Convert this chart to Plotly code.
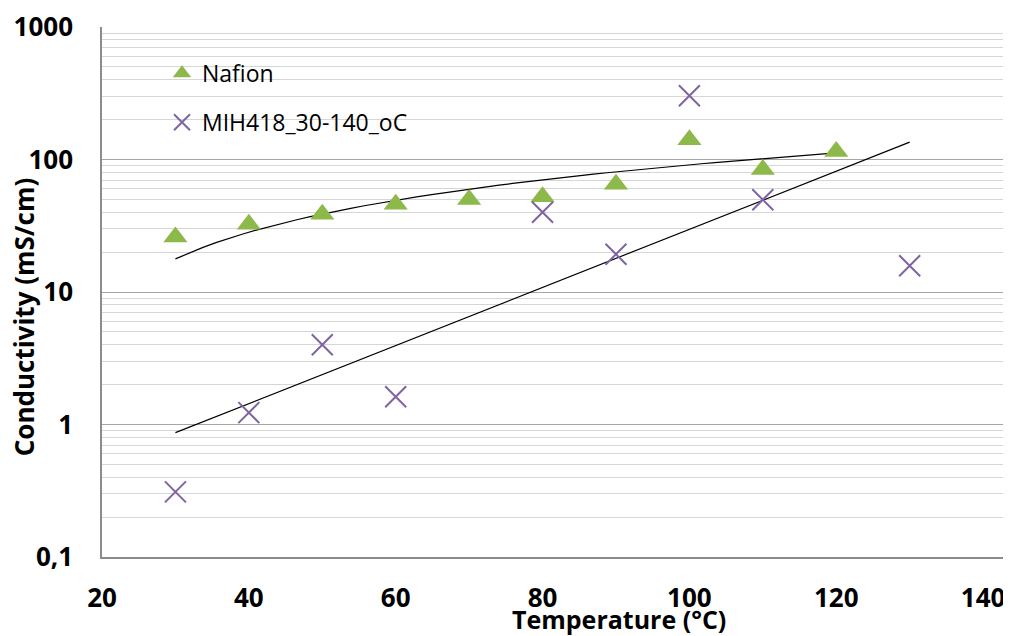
import numpy as np
import plotly.graph_objects as go

# ---- data ----
nafion_temp = [30, 40, 50, 60, 70, 80, 90, 100, 110, 120]
nafion_cond = [26, 32.5, 38.6, 46, 50, 52.5, 65, 141, 84, 115]

mih_temp = [30, 40, 50, 60, 80, 90, 100, 110, 130]
mih_cond = [0.31, 1.23, 4.0, 1.62, 40, 19.3, 303, 49.8, 15.8]

y_tickvals = [0.1, 1, 10, 100, 1000]
y_ticktext = ["0,1", "1", "10", "100", "1000"]
x_tickvals = [20, 40, 60, 80, 100, 120, 140]

# trendlines (linear for Nafion, exponential for MIH418), as in the source chart
nx = np.array(nafion_temp, float)
ny = np.array(nafion_cond, float)
b1, a1 = np.polyfit(nx, ny, 1)
tx1 = np.linspace(nx.min(), nx.max(), 50)
ty1 = a1 + b1 * tx1

mx = np.array(mih_temp, float)
my = np.array(mih_cond, float)
b2, a2 = np.polyfit(mx, np.log(my), 1)
tx2 = np.linspace(mx.min(), mx.max(), 50)
ty2 = np.exp(a2 + b2 * tx2)

FONT = "Open Sans"
GREEN = "#8DB84A"
PURPLE = "#8064A2"

fig = go.Figure()
fig.add_trace(go.Scatter(x=tx1, y=ty1, mode="lines", line=dict(color="black", width=1.2),
                         showlegend=False, hoverinfo="skip"))
fig.add_trace(go.Scatter(x=tx2, y=ty2, mode="lines", line=dict(color="black", width=1.2),
                         showlegend=False, hoverinfo="skip"))
fig.add_trace(go.Scatter(x=nafion_temp, y=nafion_cond, mode="markers", name="Nafion",
                         legendgroup="a",
                         marker=dict(symbol="triangle-up", size=21, color=GREEN)))
fig.add_trace(go.Scatter(x=mih_temp, y=mih_cond, mode="markers", name="MIH418_30-140_oC",
                         legendgroup="b",
                         marker=dict(symbol="x-thin", size=21, color=PURPLE,
                                     line=dict(color=PURPLE, width=2))))

minor_vals = [k * 10.0 ** d for d in range(-1, 3) for k in range(2, 10)]

# page has an 8px body margin: figure is 1003x628 so it ends at the window edge
fig.update_layout(
    width=1003, height=628,
    margin=dict(l=94, r=0, t=14, b=79),
    paper_bgcolor="white", plot_bgcolor="white",
    font=dict(family=FONT, color="black"),
    showlegend=True,
    legend=dict(x=0.066, y=0.953, xanchor="left", yanchor="top",
                bgcolor="rgba(0,0,0,0)", font=dict(size=23, family=FONT),
                tracegroupgap=16, traceorder="grouped"),
    xaxis=dict(range=[20, 143.8], tickvals=x_tickvals, showgrid=False, zeroline=False,
               showline=True, linecolor="#8c8c8c", linewidth=1.5, ticks="",
               tickfont=dict(size=26, family=FONT, weight="bold"),
               ticklabelstandoff=17, ticklabeloverflow="allow"),
    yaxis=dict(type="log", range=[-1, 3.0008], tickvals=y_tickvals, ticktext=y_ticktext,
               showgrid=True, gridcolor="#a6a6a6", gridwidth=1.2, zeroline=False,
               showline=True, linecolor="#8c8c8c", linewidth=1.5, ticks="",
               tickfont=dict(size=26, family=FONT, weight="bold"),
               ticklabelstandoff=22, ticklabeloverflow="allow",
               minor=dict(tickvals=minor_vals, showgrid=True, gridcolor="#d6d6d6",
                          gridwidth=1.2, ticks="")),
    annotations=[
        dict(text="Temperature (°C)", xref="paper", yref="paper",
             x=(619 - 102) / 909, y=-(622 - 559) / 535, xanchor="center", yanchor="middle",
             showarrow=False, font=dict(size=25, family=FONT, weight="bold")),
        dict(text="Conductivity (mS/cm)", xref="paper", yref="paper",
             x=-(102 - 24) / 909, y=(559 - 317) / 535, xanchor="center", yanchor="middle",
             textangle=-90, showarrow=False,
             font=dict(size=26, family=FONT, weight="bold")),
    ],
)

fig.write_html("out.html")
